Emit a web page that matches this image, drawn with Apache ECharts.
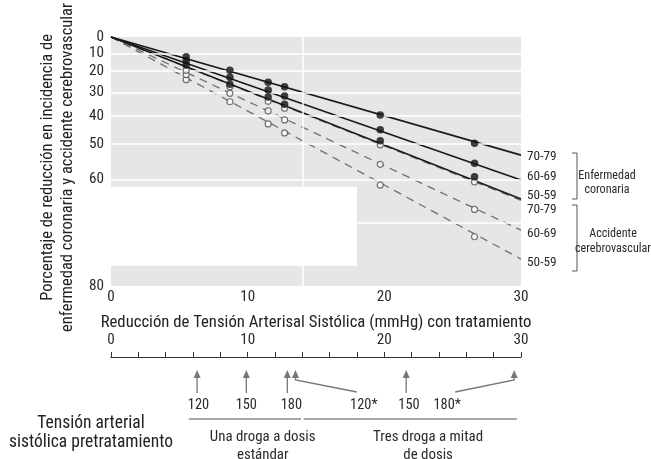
<!DOCTYPE html>
<html><head><meta charset="utf-8">
<script src="https://cdn.jsdelivr.net/npm/echarts@6/dist/echarts.min.js"></script>
<style>html,body{margin:0;padding:0;background:#fff}#c{width:651px;height:459px}</style>
</head><body><div id="c"></div>
<script>
// ---- data ----
const xPoints = [5.5, 8.7, 11.5, 12.7, 19.7, 26.6];
const chd7079 = [12.0, 19.4, 25.4, 27.5, 39.6, 49.7];
const chd6069 = [14.2, 22.9, 29.0, 31.7, 45.1, 55.8];
const chd5059 = [16.6, 26.3, 32.2, 35.3, 48.9, 59.5];
const stroke7079 = [19.4, 27.5, 34.0, 36.9, 50.2, 60.8];
const stroke6069 = [21.6, 30.5, 38.0, 41.5, 56.1, 67.2];
const stroke5059 = [24.1, 34.2, 43.0, 46.2, 61.6, 72.5];
const fitX = [0, 30];
const chdFit7079 = [0, 53.4];
const chdFit6069 = [0, 60.3];
const chdFit5059 = [0, 64.9];
const strokeFit7079 = [0, 65.2];
const strokeFit6069 = [0, 71.3];
const strokeFit5059 = [0, 76.2];
const ageGroups = ['70-79', '60-69', '50-59'];
const yTickLabels = [0, 10, 20, 30, 40, 50, 60, 80];
const yGridLines = [10, 20, 30, 40, 50, 60, 70];
const xGridLines = [14];
const blankBoxX = [0, 18];
const blankBoxY = [62, 77.2];
const pretreatBP = ['120', '150', '180', '120*', '150', '180*'];
const bpReduction = [6.3, 9.9, 12.9, 13.5, 21.6, 29.5];
const bpLabelAt = [6.4, 9.9, 13.2, 18.5, 21.8, 24.6];
const groupNames = ['Una droga a dosis\nestándar', 'Tres droga a mitad\nde dosis'];
const groupStart = [5.7, 14.1];
const groupEnd = [13.9, 29.7];
const groupTextAt = [11.1, 23.2];

const X_TITLE = 'Reducción de Tensión Arterisal Sistólica (mmHg) con tratamiento';

// ---- font selection: narrow face whose size best matches the reference ----
const ctx = document.createElement('canvas').getContext('2d');
const SAMPLE = 'abcdefghijklmnopqrstuvwxyz0123456789ABC';
function widthOf(font, s) { ctx.font = '40px monospace'; ctx.font = font; return ctx.measureText(s || SAMPLE).width; }
function avail(f) {
  for (const fb of ['monospace', 'serif']) {
    const w0 = widthOf('40px ' + fb);
    if (Math.abs(widthOf('40px "' + f + '", ' + fb) - w0) > 0.5) return true;
  }
  return false;
}
const options = [];
for (const f of ['Noto Sans', 'Open Sans', 'Roboto', 'Liberation Sans', 'DejaVu Sans']) {
  if (!avail(f)) continue;
  const w1 = widthOf('40px "' + f + '"');
  for (const st of ['semi-condensed', 'condensed']) {
    if (widthOf(st + ' 40px "' + f + '"') < 0.97 * w1) options.push({fam: '"' + f + '", sans-serif', st: st});
  }
}
for (const f of ['Liberation Sans Narrow', 'Arial Narrow', 'DejaVu Sans Condensed', 'Liberation Sans']) {
  if (avail(f)) options.push({fam: '"' + f + '", sans-serif', st: 'normal'});
}
let FAMILY = 'sans-serif', STRETCH = 'normal', KK = 1, best = 1e9;
for (const o of options) {
  const k = 431 / widthOf((o.st === 'normal' ? '' : o.st + ' ') + '17px ' + o.fam, X_TITLE);
  const score = Math.abs(Math.log(k));
  if (score < best) { best = score; FAMILY = o.fam; STRETCH = o.st; KK = k; }
}
const fs = b => Math.round(b * KK * 10) / 10;
const tf = (b, extra) => Object.assign({fontSize: fs(b), fontFamily: FAMILY, fontWeight: STRETCH}, extra || {});

// ---- helpers ----
const T = r => -Math.log(1 - r / 100);          // ratio (log) scale of reduction
const invT = v => Math.round(100 * (1 - Math.exp(-v)));
const TXT = '#2a2a2a';

const chart = echarts.init(document.getElementById('c'), null, {renderer: 'canvas'});

function fitSeries(name, ys, solid, dy) {
  return {
    name: name, type: 'line', xAxisIndex: 0, yAxisIndex: 0,
    data: fitX.map((x, i) => [x, T(ys[i])]),
    symbol: 'none', silent: true, z: solid ? 4 : 3,
    lineStyle: solid ? {color: '#1a1a1a', width: 1.6} : {color: '#707070', width: 1.3, type: [8, 6]},
    endLabel: tf(13.5, {show: true, formatter: name.split('|')[1], offset: [-2, dy], color: TXT}),
    clip: false
  };
}
function ptSeries(name, ys, filled) {
  return {
    name: name, type: 'scatter', xAxisIndex: 0, yAxisIndex: 0,
    data: xPoints.map((x, i) => [x, T(ys[i])]),
    symbol: 'circle', symbolSize: filled ? 7.5 : 6, z: filled ? 6 : 5, silent: true,
    itemStyle: filled ? {color: '#111'} : {color: '#fff', borderColor: '#555', borderWidth: 1.2}
  };
}

const option = {
  animation: false,
  backgroundColor: '#fff',
  textStyle: {fontFamily: FAMILY, fontWeight: STRETCH},
  grid: [
    {left: 111, right: 130, top: 37, height: 249, show: true, backgroundColor: '#e6e6e8', borderWidth: 0, outerBoundsMode: 'none'},
    {left: 111, right: 130, top: 357, height: 100, outerBoundsMode: 'none'}
  ],
  xAxis: [
    {type: 'value', gridIndex: 0, min: 0, max: 30, interval: 10,
     name: X_TITLE, nameLocation: 'middle', nameGap: 28,
     nameTextStyle: tf(17, {color: '#222'}),
     axisLine: {show: false},
     axisTick: {show: true, inside: true, length: 4, lineStyle: {color: '#fff', width: 2}},
     axisLabel: tf(15.5, {color: TXT, margin: 4, showMinLabel: true, showMaxLabel: true, hideOverlap: false}),
     splitLine: {show: false}},
    {type: 'value', gridIndex: 1, position: 'top', min: 0, max: 30, interval: 2,
     axisLine: {show: true, onZero: false, lineStyle: {color: '#333', width: 1}},
     axisTick: {show: true, length: 5, lineStyle: {color: '#333', width: 1}},
     axisLabel: tf(15.5, {color: TXT, margin: 9, showMinLabel: true, showMaxLabel: true,
                          formatter: v => (v % 10 === 0 ? String(v) : '')}),
     splitLine: {show: false}}
  ],
  yAxis: [
    {type: 'value', gridIndex: 0, inverse: true, min: 0, max: T(80),
     name: 'Porcentaje de reducción en incidencia de\nenfermedad coronaria y accidente cerebrovascular',
     nameLocation: 'middle', nameRotate: 90, nameGap: 33,
     nameTextStyle: tf(16.8, {lineHeight: 20, color: '#222', padding: [0, 12, 0, 0]}),
     axisLine: {show: false}, axisTick: {show: false}, splitLine: {show: false},
     axisLabel: tf(15.5, {color: TXT, margin: 7, showMinLabel: true, showMaxLabel: true, hideOverlap: false,
                          customValues: yTickLabels.map(T), formatter: v => String(invT(v))})},
    {type: 'value', gridIndex: 1, inverse: true, min: 0, max: 100, show: false}
  ],
  series: [
    {type: 'line', xAxisIndex: 0, yAxisIndex: 0, data: [[0, 0]], symbol: 'none', silent: true, z: 1,
     lineStyle: {opacity: 0},
     markLine: {silent: true, symbol: 'none', label: {show: false}, animation: false,
       lineStyle: {color: '#fff', width: 1.5, type: 'solid'},
       data: yGridLines.map(r => ({yAxis: T(r)})).concat(xGridLines.map(x => ({xAxis: x})))}},
    {type: 'line', xAxisIndex: 0, yAxisIndex: 0, data: [[0, 0]], symbol: 'none', silent: true, z: 2,
     lineStyle: {opacity: 0},
     markArea: {silent: true, itemStyle: {color: '#fff'}, label: {show: false},
       data: [[{coord: [blankBoxX[0], T(blankBoxY[0])]}, {coord: [blankBoxX[1], T(blankBoxY[1])]}]]}},
    fitSeries('str|' + ageGroups[2], strokeFit5059, false, 4),
    fitSeries('str|' + ageGroups[1], strokeFit6069, false, 4),
    fitSeries('str|' + ageGroups[0], strokeFit7079, false, 9),
    fitSeries('chd|' + ageGroups[2], chdFit5059, true, -3),
    fitSeries('chd|' + ageGroups[1], chdFit6069, true, -3),
    fitSeries('chd|' + ageGroups[0], chdFit7079, true, 2),
    ptSeries('s5059', stroke5059, false),
    ptSeries('s6069', stroke6069, false),
    ptSeries('s7079', stroke7079, false),
    ptSeries('c5059', chd5059, true),
    ptSeries('c6069', chd6069, true),
    ptSeries('c7079', chd7079, true),
    {type: 'custom', xAxisIndex: 1, yAxisIndex: 1, clip: false, silent: true,
     data: bpReduction.map((x, i) => [x, bpLabelAt[i], i]),
     renderItem: function (params, api) {
       const x = api.value(0), lx = api.value(1), i = api.value(2);
       const tip = api.coord([x, 13]);
       const col = '#777';
       const kids = [{type: 'polygon', shape: {points: [tip, [tip[0] - 3.5, tip[1] + 8], [tip[0] + 3.5, tip[1] + 8]]},
                      style: {fill: col}}];
       const lab = api.coord([lx, 48]);
       if (Math.abs(lx - x) > 1) {
         const bend = api.coord([x, 23]);
         const end = api.coord([lx, 35]);
         end[0] += (x > lx ? 8 : -7);
         kids.push({type: 'polyline', shape: {points: [[tip[0], tip[1] + 6], bend, end]}, style: {stroke: col, lineWidth: 1.3, fill: null}});
       } else {
         const bot = api.coord([x, 36]);
         kids.push({type: 'line', shape: {x1: tip[0], y1: tip[1] + 6, x2: bot[0], y2: bot[1]}, style: {stroke: col, lineWidth: 1.3}});
       }
       kids.push({type: 'text', x: lab[0], y: lab[1],
                  style: tf(14.7, {text: pretreatBP[i], align: 'center', verticalAlign: 'middle', fill: TXT})});
       return {type: 'group', children: kids};
     }},
    {type: 'custom', xAxisIndex: 1, yAxisIndex: 1, clip: false, silent: true,
     data: groupStart.map((s, i) => [s, groupEnd[i], groupTextAt[i], i]),
     renderItem: function (params, api) {
       const a = api.coord([api.value(0), 62]), b = api.coord([api.value(1), 62]);
       const t = api.coord([api.value(2), 89]);
       return {type: 'group', children: [
         {type: 'line', shape: {x1: a[0], y1: a[1], x2: b[0], y2: b[1]}, style: {stroke: '#888', lineWidth: 1.6}},
         {type: 'text', x: t[0], y: t[1], style: tf(15.2, {text: groupNames[api.value(3)], align: 'center', verticalAlign: 'middle',
           lineHeight: 18, fill: TXT})}
       ]};
     }}
  ],
  graphic: [
    {type: 'text', x: 91, y: 433, silent: true,
     style: tf(17.8, {text: 'Tensión arterial\nsistólica pretratamiento', align: 'center', verticalAlign: 'middle',
             lineHeight: 19, fill: '#222'})},
    {type: 'polyline', silent: true, shape: {points: [[572, 153], [577, 153], [577, 199], [572, 199]]},
     style: {stroke: '#555', lineWidth: 1, fill: null}},
    {type: 'polyline', silent: true, shape: {points: [[572, 205], [577, 205], [577, 271], [572, 271]]},
     style: {stroke: '#555', lineWidth: 1, fill: null}},
    {type: 'text', x: 607, y: 183, silent: true,
     style: tf(12.3, {text: 'Enfermedad\ncoronaria', align: 'center', verticalAlign: 'middle', lineHeight: 14, fill: TXT})},
    {type: 'text', x: 613, y: 241, silent: true,
     style: tf(12.3, {text: 'Accidente\ncerebrovascular', align: 'center', verticalAlign: 'middle', lineHeight: 15, fill: TXT})}
  ]
};
chart.setOption(option);
</script></body></html>
